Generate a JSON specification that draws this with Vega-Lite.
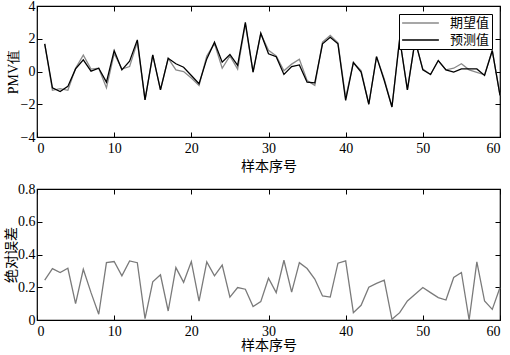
{
  "$schema": "https://vega.github.io/schema/vega-lite/v6.json",
  "background": "white",
  "padding": {"left": 3, "top": -2, "right": 8, "bottom": 0},
  "bounds": "flush",
  "spacing": 52,
  "config": {
    "view": {"stroke": "black", "strokeWidth": 1.2},
    "axis": {
      "grid": false,
      "domain": false,
      "tickColor": "black",
      "tickSize": -5,
      "tickWidth": 1,
      "labelFont": "Liberation Serif",
      "labelFontSize": 14,
      "labelColor": "black",
      "titleFont": "Noto Sans CJK SC",
      "titleFontSize": 14,
      "titleFontWeight": "normal",
      "titleColor": "black"
    },
    "axisX": {"labelPadding": 9},
    "axisY": {"labelPadding": 7}
  },
  "datasets": {
    "pmv": [
      {"i":1,"s":"期望值","v":1.69},{"i":2,"s":"期望值","v":-1.15},{"i":3,"s":"期望值","v":-1.05},{"i":4,"s":"期望值","v":-1.15},{"i":5,"s":"期望值","v":0.2},
      {"i":6,"s":"期望值","v":1.0},{"i":7,"s":"期望值","v":0.15},{"i":8,"s":"期望值","v":0.2},{"i":9,"s":"期望值","v":-1.0},{"i":10,"s":"期望值","v":1.1},
      {"i":11,"s":"期望值","v":0.15},{"i":12,"s":"期望值","v":0.3},{"i":13,"s":"期望值","v":1.8},{"i":14,"s":"期望值","v":-1.73},{"i":15,"s":"期望值","v":1.0},
      {"i":16,"s":"期望值","v":-1.12},{"i":17,"s":"期望值","v":0.8},{"i":18,"s":"期望值","v":0.1},{"i":19,"s":"期望值","v":0.0},{"i":20,"s":"期望值","v":-0.4},
      {"i":21,"s":"期望值","v":-0.85},{"i":22,"s":"期望值","v":0.95},{"i":23,"s":"期望值","v":1.7},{"i":24,"s":"期望值","v":0.2},{"i":25,"s":"期望值","v":0.95},
      {"i":26,"s":"期望值","v":0.15},{"i":27,"s":"期望值","v":2.9},{"i":28,"s":"期望值","v":-0.04},{"i":29,"s":"期望值","v":2.3},{"i":30,"s":"期望值","v":1.3},
      {"i":31,"s":"期望值","v":0.95},{"i":32,"s":"期望值","v":0.05},{"i":33,"s":"期望值","v":0.45},{"i":34,"s":"期望值","v":0.75},{"i":35,"s":"期望值","v":-0.55},
      {"i":36,"s":"期望值","v":-0.85},{"i":37,"s":"期望值","v":1.8},{"i":38,"s":"期望值","v":2.2},{"i":39,"s":"期望值","v":1.75},{"i":40,"s":"期望值","v":-1.6},
      {"i":41,"s":"期望值","v":0.55},{"i":42,"s":"期望值","v":0.05},{"i":43,"s":"期望值","v":-2.0},{"i":44,"s":"期望值","v":0.91},{"i":45,"s":"期望值","v":-0.45},
      {"i":46,"s":"期望值","v":-2.17},{"i":47,"s":"期望值","v":2.0},{"i":48,"s":"期望值","v":-1.12},{"i":49,"s":"期望值","v":1.9},{"i":50,"s":"期望值","v":0.15},
      {"i":51,"s":"期望值","v":-0.18},{"i":52,"s":"期望值","v":0.67},{"i":53,"s":"期望值","v":0.1},{"i":54,"s":"期望值","v":0.2},{"i":55,"s":"期望值","v":0.47},
      {"i":56,"s":"期望值","v":0.1},{"i":57,"s":"期望值","v":-0.05},{"i":58,"s":"期望值","v":-0.2},{"i":59,"s":"期望值","v":1.28},{"i":60,"s":"期望值","v":-1.46},
      {"i":1,"s":"预测值","v":1.69},{"i":2,"s":"预测值","v":-1.0},{"i":3,"s":"预测值","v":-1.22},{"i":4,"s":"预测值","v":-0.91},{"i":5,"s":"预测值","v":0.16},
      {"i":6,"s":"预测值","v":0.71},{"i":7,"s":"预测值","v":0.02},{"i":8,"s":"预测值","v":0.2},{"i":9,"s":"预测值","v":-0.65},{"i":10,"s":"预测值","v":1.28},
      {"i":11,"s":"预测值","v":0.1},{"i":12,"s":"预测值","v":0.63},{"i":13,"s":"预测值","v":1.93},{"i":14,"s":"预测值","v":-1.73},{"i":15,"s":"预测值","v":1.02},
      {"i":16,"s":"预测值","v":-1.12},{"i":17,"s":"预测值","v":0.81},{"i":18,"s":"预测值","v":0.47},{"i":19,"s":"预测值","v":0.26},{"i":20,"s":"预测值","v":-0.24},
      {"i":21,"s":"预测值","v":-0.75},{"i":22,"s":"预测值","v":0.77},{"i":23,"s":"预测值","v":1.79},{"i":24,"s":"预测值","v":0.57},{"i":25,"s":"预测值","v":1.04},
      {"i":26,"s":"预测值","v":0.37},{"i":27,"s":"预测值","v":3.0},{"i":28,"s":"预测值","v":-0.04},{"i":29,"s":"预测值","v":2.34},{"i":30,"s":"预测值","v":1.08},
      {"i":31,"s":"预测值","v":0.9},{"i":32,"s":"预测值","v":-0.18},{"i":33,"s":"预测值","v":0.3},{"i":34,"s":"预测值","v":0.4},{"i":35,"s":"预测值","v":-0.65},
      {"i":36,"s":"预测值","v":-0.69},{"i":37,"s":"预测值","v":1.69},{"i":38,"s":"预测值","v":2.09},{"i":39,"s":"预测值","v":1.69},{"i":40,"s":"预测值","v":-1.77},
      {"i":41,"s":"预测值","v":0.55},{"i":42,"s":"预测值","v":-0.04},{"i":43,"s":"预测值","v":-2.0},{"i":44,"s":"预测值","v":0.91},{"i":45,"s":"预测值","v":-0.55},
      {"i":46,"s":"预测值","v":-2.17},{"i":47,"s":"预测值","v":2.0},{"i":48,"s":"预测值","v":-1.12},{"i":49,"s":"预测值","v":1.9},{"i":50,"s":"预测值","v":0.1},
      {"i":51,"s":"预测值","v":-0.18},{"i":52,"s":"预测值","v":0.67},{"i":53,"s":"预测值","v":0.1},{"i":54,"s":"预测值","v":-0.04},{"i":55,"s":"预测值","v":0.16},
      {"i":56,"s":"预测值","v":0.16},{"i":57,"s":"预测值","v":0.16},{"i":58,"s":"预测值","v":-0.24},{"i":59,"s":"预测值","v":1.28},{"i":60,"s":"预测值","v":-1.46}
    ],
    "err": [
      {"i":1,"e":0.243},{"i":2,"e":0.314},{"i":3,"e":0.29},{"i":4,"e":0.316},{"i":5,"e":0.1},
      {"i":6,"e":0.31},{"i":7,"e":0.167},{"i":8,"e":0.035},{"i":9,"e":0.35},{"i":10,"e":0.357},
      {"i":11,"e":0.27},{"i":12,"e":0.361},{"i":13,"e":0.35},{"i":14,"e":0.008},{"i":15,"e":0.233},
      {"i":16,"e":0.276},{"i":17,"e":0.055},{"i":18,"e":0.32},{"i":19,"e":0.23},{"i":20,"e":0.357},
      {"i":21,"e":0.116},{"i":22,"e":0.355},{"i":23,"e":0.27},{"i":24,"e":0.335},{"i":25,"e":0.14},
      {"i":26,"e":0.198},{"i":27,"e":0.188},{"i":28,"e":0.082},{"i":29,"e":0.112},{"i":30,"e":0.255},
      {"i":31,"e":0.167},{"i":32,"e":0.365},{"i":33,"e":0.17},{"i":34,"e":0.35},{"i":35,"e":0.314},
      {"i":36,"e":0.25},{"i":37,"e":0.147},{"i":38,"e":0.14},{"i":39,"e":0.347},{"i":40,"e":0.361},
      {"i":41,"e":0.045},{"i":42,"e":0.09},{"i":43,"e":0.2},{"i":44,"e":0.224},{"i":45,"e":0.243},
      {"i":46,"e":0.004},{"i":47,"e":0.045},{"i":48,"e":0.116},{"i":49,"e":0.157},{"i":50,"e":0.198},
      {"i":51,"e":0.167},{"i":52,"e":0.137},{"i":53,"e":0.122},{"i":54,"e":0.26},{"i":55,"e":0.29},
      {"i":56,"e":0.0},{"i":57,"e":0.355},{"i":58,"e":0.116},{"i":59,"e":0.065},{"i":60,"e":0.198}
    ]
  },
  "vconcat": [
    {
      "width": 463,
      "height": 131,
      "data": {"name": "pmv"},
      "resolve": {"axis": {"x": "independent", "y": "independent"}},
      "layer": [
        {
          "mark": {"type": "line", "strokeWidth": 1.3},
          "encoding": {
            "x": {"field": "i", "type": "quantitative", "scale": {"domain": [0, 60], "nice": false},
                  "axis": {"orient": "bottom", "values": [0,10,20,30,40,50,60], "title": "样本序号", "titlePadding": 4}},
            "y": {"field": "v", "type": "quantitative", "scale": {"domain": [-4, 4], "nice": false},
                  "axis": {"orient": "left", "values": [-4,-2,0,2,4], "title": "PMV值", "titlePadding": 0, "titleFont": "Liberation Serif"}},
            "color": {"field": "s", "type": "nominal",
                      "scale": {"domain": ["期望值", "预测值"], "range": ["#8a8a8a", "#000000"]},
                      "legend": {"orient": "none", "legendX": 362, "legendY": 8, "title": null,
                                 "strokeColor": "black", "fillColor": "white", "padding": 2,
                                 "symbolType": "stroke", "symbolSize": 1350, "symbolStrokeWidth": 1.3,
                                 "clipHeight": 14,
                                 "labelFont": "Noto Sans CJK SC", "labelFontSize": 13, "labelColor": "black",
                                 "labelOffset": 10, "rowPadding": 3}}
          }
        },
        {
          "mark": {"type": "line", "opacity": 0},
          "encoding": {
            "x": {"field": "i", "type": "quantitative",
                  "axis": {"orient": "top", "values": [0,10,20,30,40,50,60], "labels": false, "title": null}},
            "y": {"field": "v", "type": "quantitative",
                  "axis": {"orient": "right", "values": [-4,-2,0,2,4], "labels": false, "title": null}}
          }
        }
      ]
    },
    {
      "width": 463,
      "height": 131,
      "data": {"name": "err"},
      "resolve": {"axis": {"x": "independent", "y": "independent"}},
      "layer": [
        {
          "mark": {"type": "line", "strokeWidth": 1.3, "color": "#7a7a7a"},
          "encoding": {
            "x": {"field": "i", "type": "quantitative", "scale": {"domain": [0, 60], "nice": false},
                  "axis": {"orient": "bottom", "values": [0,10,20,30,40,50,60], "title": "样本序号", "titlePadding": 0}},
            "y": {"field": "e", "type": "quantitative", "scale": {"domain": [0, 0.8], "nice": false},
                  "axis": {"orient": "left", "values": [0,0.2,0.4,0.6,0.8], "title": "绝对误差", "titlePadding": -1,
                           "labelExpr": "datum.value == 0 ? '0' : format(datum.value, '.1f')"}}
          }
        },
        {
          "mark": {"type": "line", "opacity": 0},
          "encoding": {
            "x": {"field": "i", "type": "quantitative",
                  "axis": {"orient": "top", "values": [0,10,20,30,40,50,60], "labels": false, "title": null}},
            "y": {"field": "e", "type": "quantitative",
                  "axis": {"orient": "right", "values": [0,0.2,0.4,0.6,0.8], "labels": false, "title": null}}
          }
        }
      ]
    }
  ]
}
